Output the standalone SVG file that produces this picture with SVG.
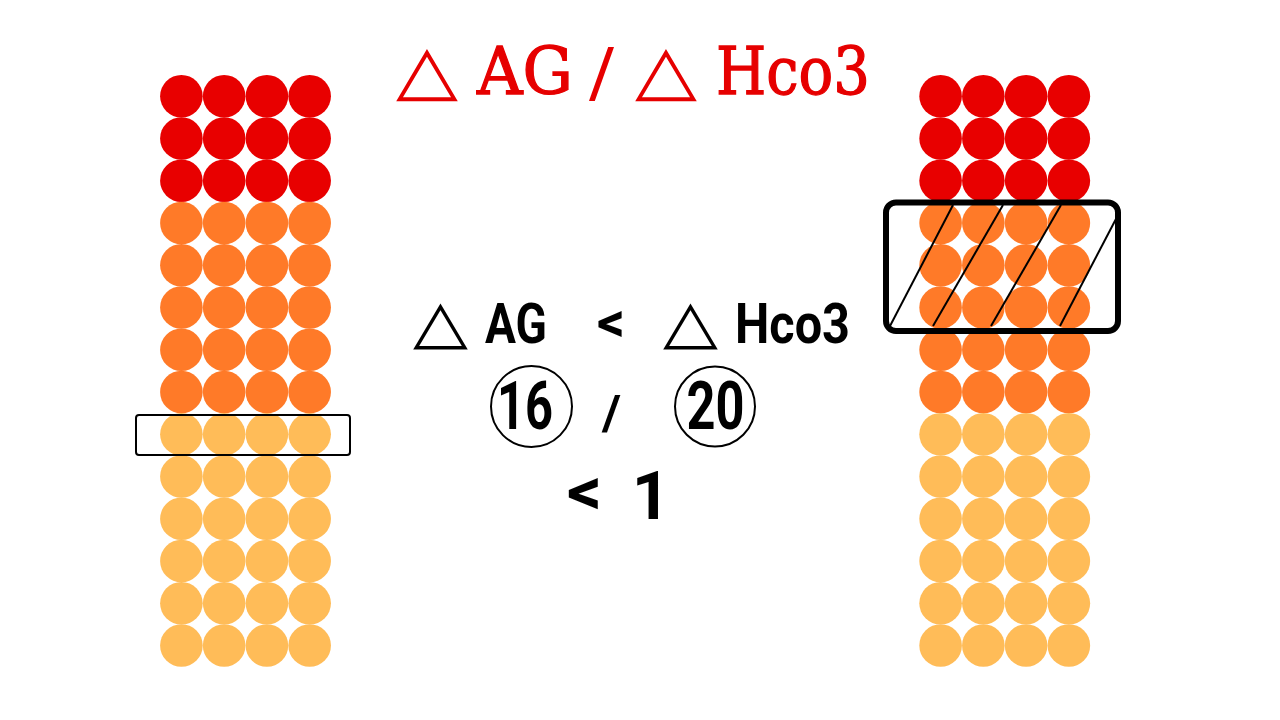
<svg xmlns="http://www.w3.org/2000/svg" width="1280" height="720" viewBox="0 0 1280 720">
<style>
.r{fill:#E80000}.o{fill:#FF7A28}.y{fill:#FFBC58}
.title{font-family:"DejaVu Serif","Liberation Serif",serif;fill:#E60000}
.thick{stroke:#E60000;stroke-width:1.3}
.tri{font-family:"DejaVu Sans","Noto Sans",sans-serif}
.m{font-family:Roboto,"Liberation Sans",sans-serif;font-weight:700;fill:#000}
</style>
<defs>
<g id="rowR"><circle cx="0" cy="0" r="21.3"/><circle cx="42.75" cy="0" r="21.3"/><circle cx="85.5" cy="0" r="21.3"/><circle cx="128.25" cy="0" r="21.3"/></g>
<g id="column">
<g class="r">
<use href="#rowR" y="96.2"/><use href="#rowR" y="138.5"/><use href="#rowR" y="180.7"/>
</g>
<g class="o">
<use href="#rowR" y="223"/><use href="#rowR" y="265.2"/><use href="#rowR" y="307.5"/><use href="#rowR" y="349.8"/><use href="#rowR" y="392"/>
</g>
<g class="y">
<use href="#rowR" y="434.3"/><use href="#rowR" y="476.5"/><use href="#rowR" y="518.8"/><use href="#rowR" y="561"/><use href="#rowR" y="603.3"/><use href="#rowR" y="645.5"/>
</g>
</g>
</defs>
<rect width="1280" height="720" fill="#fff"/>
<g id="left-column">
<use href="#column" x="181.4"/>
<rect x="136" y="415" width="214" height="40" rx="3" fill="none" stroke="#000" stroke-width="2"/>
</g>
<g id="right-column">
<use href="#column" x="940.6"/>
<g stroke="#000" stroke-width="2" fill="none">
<line x1="890" y1="326" x2="953" y2="205"/>
<line x1="933" y1="326" x2="1003" y2="205"/>
<line x1="991" y1="326" x2="1061" y2="205"/>
<line x1="1060" y1="326" x2="1117" y2="217"/>
</g>
<rect x="886" y="202.5" width="232" height="128.5" rx="10" fill="none" stroke="#000" stroke-width="6"/>
</g>
<g id="title">
<text class="title tri" x="396" y="93" font-size="68" textLength="62" lengthAdjust="spacingAndGlyphs">△</text>
<text class="title thick" x="477" y="94" font-size="65" textLength="96" lengthAdjust="spacingAndGlyphs">AG</text>
<text class="title" x="589" y="95" font-size="65" textLength="25" lengthAdjust="spacingAndGlyphs">/</text>
<text class="title tri" x="635" y="93" font-size="68" textLength="62" lengthAdjust="spacingAndGlyphs">△</text>
<text class="title thick" x="716" y="94" font-size="65" textLength="154" lengthAdjust="spacingAndGlyphs">Hco3</text>
</g>
<g id="formula">
<text class="tri" x="413" y="342" font-size="60" textLength="55" lengthAdjust="spacingAndGlyphs">△</text>
<text class="m" x="485" y="342.5" font-size="55" textLength="62" lengthAdjust="spacingAndGlyphs">AG</text>
<text class="m" x="597" y="341" font-size="55" textLength="28" lengthAdjust="spacingAndGlyphs">&lt;</text>
<text class="tri" x="663" y="342" font-size="60" textLength="55" lengthAdjust="spacingAndGlyphs">△</text>
<text class="m" x="735" y="342.5" font-size="55" textLength="115" lengthAdjust="spacingAndGlyphs">Hco3</text>
<circle cx="531.5" cy="406.5" r="40.5" fill="none" stroke="#000" stroke-width="2"/>
<text class="m" x="497" y="428.5" font-size="67" textLength="56" lengthAdjust="spacingAndGlyphs">16</text>
<text class="m" x="602" y="428.5" font-size="48" textLength="19" lengthAdjust="spacingAndGlyphs">/</text>
<circle cx="715" cy="406.5" r="40" fill="none" stroke="#000" stroke-width="2"/>
<text class="m" x="686.5" y="428.5" font-size="67" textLength="58" lengthAdjust="spacingAndGlyphs">20</text>
<text class="m" x="567" y="514" font-size="67" textLength="35" lengthAdjust="spacingAndGlyphs">&lt;</text>
<text class="m" x="651" y="518.5" font-size="67" text-anchor="middle">1</text>
</g>
</svg>
